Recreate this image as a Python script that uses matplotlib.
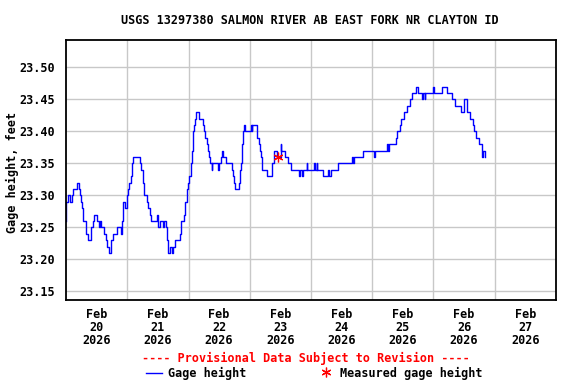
import numpy as np
import matplotlib
matplotlib.use("Agg")
import matplotlib.pyplot as plt

# hours since Feb 20 2026 00:00, gage height in feet
hours = [0.0, 0.0, 0.9, 0.9, 1.6, 2.2, 2.2, 2.9, 2.9, 3.9, 4.4, 4.8, 5.2, 5.5, 5.7,
         6.3, 6.8, 7.3, 7.7, 8.1, 8.5, 9.1, 9.7, 10.1, 10.7, 11.1, 11.8, 12.3, 12.8,
         13.3, 13.8, 14.6, 15.0, 15.7, 16.2, 16.7, 17.2, 17.5, 17.9, 18.5, 19.2, 19.8,
         20.1, 20.6, 21.2, 21.4, 21.8, 22.2, 22.7, 23.3, 23.8, 24.3, 24.8, 25.3, 25.9,
         26.4, 27.0, 28.5, 29.0, 29.5, 30.0, 30.6, 31.1, 31.6, 32.0, 32.4, 32.9, 33.3,
         35.0, 35.5, 35.9, 36.3, 36.8, 37.7, 38.1, 38.5, 39.2, 39.6, 40.1, 40.6, 41.1,
         41.7, 42.1, 42.7, 43.7, 44.3, 44.7, 45.2, 45.7, 46.2, 46.8, 47.3, 47.8, 48.1,
         48.6, 48.8, 49.4, 49.6, 50.2, 50.7, 51.1, 51.5, 52.0, 53.0, 53.7, 53.9, 54.3,
         54.7, 55.1, 55.8, 56.2, 56.6, 57.1, 57.2, 58.4, 59.0, 59.6, 60.1, 60.6, 61.0,
         61.5, 62.2, 62.6, 63.0, 63.5, 64.5, 64.9, 65.3, 65.8, 66.1, 67.5, 67.9, 68.2,
         68.6, 68.8, 69.2, 69.6, 70.1, 72.1, 72.5, 72.9, 72.9, 74.4, 75.0, 75.5, 76.0,
         76.5, 76.9, 77.8, 78.6, 80.3, 80.6, 81.2, 81.6, 82.3, 82.8, 83.5, 83.8, 84.1,
         84.4, 85.4, 85.9, 86.5, 86.9, 87.8, 88.3, 90.6, 91.2, 91.7, 92.3, 92.3, 92.7,
         94.0, 94.3, 94.6, 96.6, 97.2, 97.6, 98.2, 98.5, 100.3, 100.8, 101.5, 102.1,
         102.8, 103.2, 103.7, 106.3, 106.7, 107.1, 107.4, 111.3, 111.9, 112.6, 113.0,
         113.5, 116.1, 116.5, 116.9, 120.4, 120.7, 121.1, 125.4, 125.9, 126.3, 126.7,
         128.8, 129.2, 129.8, 130.2, 130.7, 131.1, 131.8, 132.4, 133.0, 133.5, 134.1,
         134.8, 135.6, 136.1, 136.6, 137.0, 137.4, 138.0, 139.0, 139.3, 140.0, 140.7,
         140.8, 143.4, 143.8, 144.2, 145.2, 146.0, 147.2, 148.7, 149.1, 150.5, 151.1,
         151.8, 152.4, 153.7, 154.1, 154.6, 155.7, 156.1, 156.7, 157.2, 157.8, 158.3,
         158.8, 159.3, 159.9, 160.2, 160.6, 161.3, 161.8, 162.5, 162.9, 163.3, 163.8,
         164.3]
gage = [23.26, 23.29, 23.29, 23.30, 23.29, 23.29, 23.30, 23.30, 23.31, 23.31, 23.32,
        23.32, 23.31, 23.30, 23.29, 23.28, 23.26, 23.26, 23.24, 23.24, 23.23, 23.23,
        23.25, 23.25, 23.26, 23.27, 23.27, 23.26, 23.25, 23.26, 23.25, 23.25, 23.24,
        23.23, 23.22, 23.21, 23.21, 23.23, 23.23, 23.24, 23.24, 23.24, 23.25, 23.25,
        23.25, 23.24, 23.26, 23.29, 23.29, 23.28, 23.30, 23.31, 23.32, 23.33, 23.35,
        23.36, 23.36, 23.36, 23.35, 23.34, 23.32, 23.30, 23.30, 23.29, 23.28, 23.28,
        23.27, 23.26, 23.26, 23.27, 23.25, 23.25, 23.26, 23.26, 23.25, 23.26, 23.25,
        23.23, 23.21, 23.22, 23.22, 23.21, 23.22, 23.23, 23.23, 23.23, 23.24, 23.26,
        23.26, 23.27, 23.29, 23.31, 23.32, 23.33, 23.33, 23.35, 23.37, 23.40, 23.41,
        23.42, 23.43, 23.43, 23.42, 23.42, 23.41, 23.40, 23.39, 23.39, 23.38, 23.37,
        23.36, 23.35, 23.34, 23.35, 23.35, 23.35, 23.34, 23.35, 23.36, 23.37, 23.36,
        23.36, 23.35, 23.35, 23.35, 23.35, 23.34, 23.33, 23.32, 23.31, 23.31, 23.32,
        23.34, 23.35, 23.38, 23.40, 23.41, 23.40, 23.40, 23.41, 23.40, 23.41, 23.41,
        23.39, 23.38, 23.37, 23.36, 23.34, 23.34, 23.33, 23.33, 23.35, 23.35, 23.37,
        23.37, 23.36, 23.36, 23.36, 23.38, 23.37, 23.37, 23.36, 23.36, 23.35, 23.35,
        23.34, 23.34, 23.33, 23.34, 23.34, 23.33, 23.34, 23.34, 23.35, 23.34, 23.34,
        23.35, 23.34, 23.35, 23.34, 23.34, 23.33, 23.33, 23.33, 23.34, 23.33, 23.34,
        23.34, 23.35, 23.35, 23.35, 23.35, 23.36, 23.35, 23.36, 23.36, 23.36, 23.37,
        23.37, 23.37, 23.36, 23.37, 23.37, 23.38, 23.37, 23.38, 23.38, 23.39, 23.40,
        23.40, 23.41, 23.42, 23.42, 23.43, 23.43, 23.44, 23.44, 23.45, 23.46, 23.46,
        23.46, 23.47, 23.47, 23.46, 23.46, 23.45, 23.46, 23.45, 23.46, 23.46, 23.47,
        23.46, 23.46, 23.46, 23.47, 23.47, 23.46, 23.46, 23.45, 23.45, 23.44, 23.44,
        23.44, 23.43, 23.43, 23.45, 23.45, 23.43, 23.43, 23.42, 23.42, 23.41, 23.40,
        23.40, 23.39, 23.39, 23.38, 23.38, 23.36, 23.37, 23.37, 23.36]
meas_hours = [83.2]
meas_gage = [23.36]

day_labels = ["Feb\n20\n2026", "Feb\n21\n2026", "Feb\n22\n2026", "Feb\n23\n2026",
              "Feb\n24\n2026", "Feb\n25\n2026", "Feb\n26\n2026", "Feb\n27\n2026"]
yticks = [23.15, 23.20, 23.25, 23.30, 23.35, 23.40, 23.45, 23.50]

plt.rcParams["font.family"] = "DejaVu Sans Mono"
plt.rcParams["font.weight"] = "bold"
plt.rcParams["font.size"] = 8.5

fig = plt.figure(figsize=(5.76, 3.84), dpi=100)
ax = fig.add_axes([66/576, 1 - 300/384, 490/576, 260/384])

ax.plot(hours, gage, color="blue", lw=1.0, drawstyle="steps-post")
ax.plot(meas_hours, meas_gage, ls="none", marker=(6, 2, 0), ms=7,
        mec="red", mew=0.9)

ax.set_xlim(0, 192)
ax.set_ylim(23.1364, 23.5427)
ax.set_xticks(np.arange(24, 192, 24))
ax.set_xticklabels([])
ax.set_xticks(np.arange(12, 192, 24), minor=True)
ax.set_xticklabels(day_labels, minor=True, linespacing=1.0)
ax.tick_params(axis="x", which="both", length=0, pad=6)
ax.set_yticks(yticks)
ax.set_yticklabels([f"{v:.2f}" for v in yticks])
ax.tick_params(axis="y", length=0, pad=8)
ax.grid(True, which="major", color="#c8c8c8", lw=1)
for s in ax.spines.values():
    s.set_linewidth(1.3)
fig.text(12/576, 1 - 172/384, "Gage height, feet", rotation=90,
         ha="center", va="center")
fig.text(310/576, 1 - 20/384, "USGS 13297380 SALMON RIVER AB EAST FORK NR CLAYTON ID",
         ha="center", va="center")
fig.text(306/576, 1 - 358/384, "---- Provisional Data Subject to Revision ----",
         ha="center", va="center", color="red")
fig.add_artist(plt.Line2D([146/576, 162/576], [1 - 373/384, 1 - 373/384],
                          color="blue", lw=1))
fig.text(168/576, 1 - 373/384, "Gage height", va="center")
fig.add_artist(plt.Line2D([326/576], [1 - 372/384], marker=(6, 2, 0), ms=7,
                          mec="red", mew=0.9))
fig.text(340/576, 1 - 373/384, "Measured gage height", va="center")

fig.savefig("out.png", dpi=100)
